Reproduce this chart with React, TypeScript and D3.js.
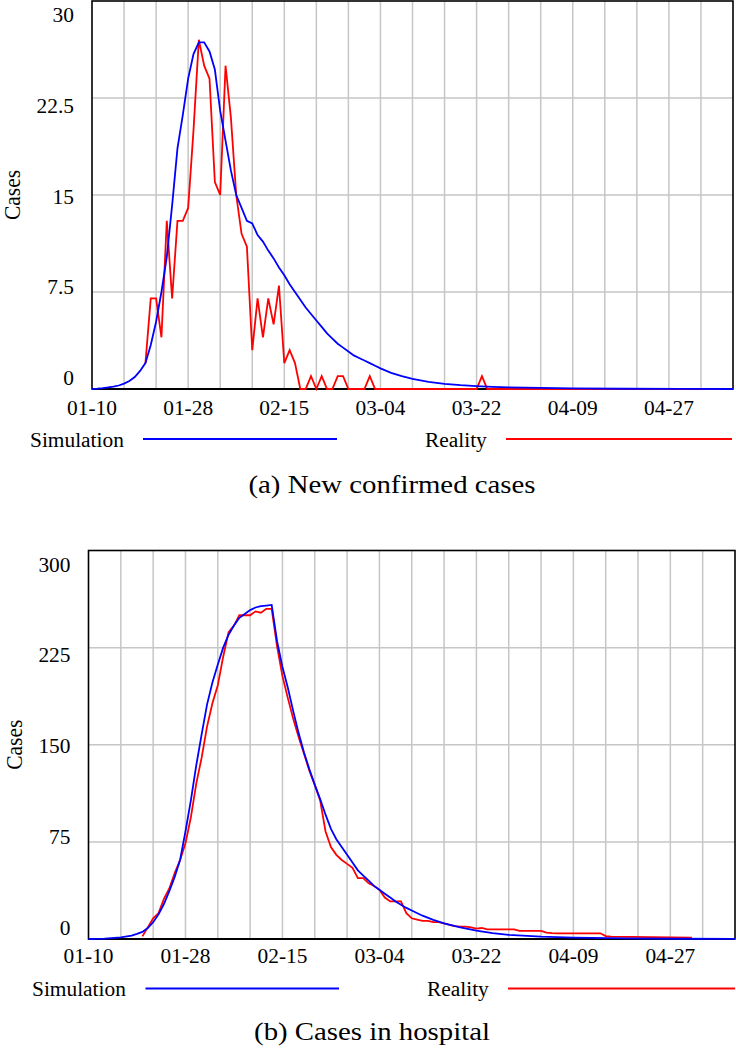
import React, { useEffect, useRef } from "react";
import * as d3 from "d3";

// x axis: days since 01-10, gridline every 6 days, label every 18
const tickLabels = ["01-10", "01-28", "02-15", "03-04", "03-22", "04-09", "04-27"];
const totalDays = 120;
const tickStep = 18;
const gridStep = 6;

const newYTicks = [0, 7.5, 15, 22.5, 30];
const hospYTicks = [0, 75, 150, 225, 300];

const seriesNames = ["Simulation", "Reality"];
const titles = ["(a) New confirmed cases", "(b) Cases in hospital"];

// [day, cases]
const newSimulation: [number, number][] = [
  [0, 0], [1, 0.03], [2, 0.07], [3, 0.12], [4, 0.18], [5, 0.27], [6, 0.42], [7, 0.62],
  [8, 0.92], [9, 1.4], [10, 2.0], [11, 3.4], [12, 5.2], [13, 7.5], [14, 10.2], [15, 14.2],
  [16, 18.6], [17, 21.2], [18, 24.0], [19, 25.9], [20, 26.8], [21, 26.8], [22, 26.1],
  [23, 24.7], [24, 21.5], [25, 19.2], [26, 16.9], [27, 15.0], [28, 14.0], [29, 13.0],
  [30, 12.8], [31, 11.9], [32, 11.4], [33, 10.7], [34, 10.1], [35, 9.4], [36, 8.8],
  [37, 8.1], [38, 7.5], [39, 6.9], [40, 6.3], [41, 5.8], [42, 5.3], [43, 4.8], [44, 4.3],
  [45, 3.9], [46, 3.5], [47, 3.2], [48, 2.9], [49, 2.6], [50, 2.4], [51, 2.2], [52, 2.0],
  [53, 1.8], [54, 1.6], [56, 1.25], [58, 1.0], [60, 0.78], [63, 0.55], [66, 0.4],
  [69, 0.3], [72, 0.23], [75, 0.17], [78, 0.13], [84, 0.08], [90, 0.05], [100, 0.02],
  [110, 0.01], [120, 0],
];

const newReality: [number, number][] = [
  [10, 2], [11, 7], [12, 7], [13, 4], [14, 13], [15, 7], [16, 13], [17, 13], [18, 14],
  [19, 20], [20, 27], [21, 25], [22, 24], [23, 16], [24, 15], [25, 25], [26, 21],
  [27, 15], [28, 12], [29, 11], [30, 3], [31, 7], [32, 4], [33, 7], [34, 5], [35, 8],
  [36, 2], [37, 3], [38, 2], [39, 0], [40, 0], [41, 1], [42, 0], [43, 1], [44, 0],
  [45, 0], [46, 1], [47, 1], [48, 0], [51, 0], [52, 1], [53, 0], [72, 0], [73, 1],
  [74, 0], [120, 0],
];

const hospSimulation: [number, number][] = [
  [0, 0], [3, 0.3], [6, 1.3], [8, 2.6], [9, 3.9], [10, 5.5], [11, 8.5], [12, 13],
  [13, 19], [14, 27], [15, 37], [16, 48], [17, 61], [18, 83], [19, 107], [20, 134],
  [21, 158], [22, 181], [23, 198], [24, 212], [25, 225], [26, 235], [27, 242], [28, 248],
  [29, 251], [30, 254], [31, 256], [32, 257], [33, 257.5], [34, 258], [35, 230],
  [36, 210], [37, 194], [38, 176], [39, 159], [40, 144], [41, 131], [42, 119], [43, 108],
  [44, 96], [45, 85], [46, 77], [47, 71], [48, 65], [49, 59], [50, 53], [51, 49],
  [52, 45], [53, 41], [54, 38], [55, 35], [56, 32], [57, 29], [58, 26.5], [59, 24],
  [60, 22], [62, 18], [64, 14.8], [66, 12], [69, 9], [72, 6.5], [75, 4.6], [78, 3.2],
  [84, 1.8], [90, 1.0], [100, 0.5], [110, 0.2], [120, 0.1],
];

const hospReality: [number, number][] = [
  [10, 2], [11, 9], [12, 16], [13, 20], [14, 31], [15, 39], [16, 51], [17, 61], [18, 74],
  [19, 94], [20, 120], [21, 140], [22, 164], [23, 182], [24, 196], [25, 218], [26, 237],
  [27, 242], [28, 250], [29, 250], [30, 250], [31, 253], [32, 252], [33, 255], [34, 255],
  [35, 226], [36, 203], [37, 186], [38, 170], [39, 156], [40, 143], [41, 130], [42, 119],
  [43, 107], [44, 83], [45, 71], [46, 65], [47, 61], [48, 58], [49, 55], [50, 47],
  [51, 47], [52, 43], [53, 41], [54, 38], [55, 32], [56, 29], [57, 29], [58, 29],
  [59, 20], [60, 16], [61, 15], [62, 14], [63, 14], [64, 13], [65, 13], [66, 12],
  [67, 11], [68, 10], [69, 9.5], [70, 9.5], [71, 9], [72, 8], [73, 8.5], [74, 7.5],
  [79, 7.5], [80, 6.2], [84, 6.2], [85, 5], [86, 4.5], [87, 4.4], [95, 4.4], [96, 2.3],
  [97, 1.8], [112, 1.0],
];

const FONT = '"Liberation Serif", "Times New Roman", serif';
const SX = 1.07; // reference text is a bit wider than Times

const panels = [
  {
    left: 92, right: 733, top: 1, bottom: 389, yTicks: newYTicks,
    sim: newSimulation, real: newReality, title: titles[0],
    yLabelRight: 74, casesX: 20, tickBase: 415,
    legendY: 439, simText: 30, simLine: [143, 337], realText: 425, realLine: [506, 732],
    titleX: 392, titleY: 493,
  },
  {
    left: 88.5, right: 735, top: 550.5, bottom: 939, yTicks: hospYTicks,
    sim: hospSimulation, real: hospReality, title: titles[1],
    yLabelRight: 70.5, casesX: 21.5, tickBase: 963,
    legendY: 988.5, simText: 32, simLine: [145.5, 339], realText: 427, realLine: [508, 735],
    titleX: 372, titleY: 1040,
  },
];

const addText = (g, str, x, y, size, anchor, sx = SX) =>
  g.append("text")
    .attr("transform", `translate(${x},${y}) scale(${sx},1)`)
    .attr("text-anchor", anchor)
    .attr("font-family", FONT)
    .attr("font-size", size)
    .attr("fill", "#000")
    .text(str);

function drawPanel(svg, p) {
  const x = d3.scaleLinear().domain([0, totalDays]).range([p.left, p.right]);
  const yMax = p.yTicks[p.yTicks.length - 1];
  const y = d3.scaleLinear().domain([0, yMax]).range([p.bottom, p.top]);
  // the tick labels sit in a slightly compressed band (0 above the axis, max below the top)
  const labelY = d3.scaleLinear().domain([0, yMax]).range([p.bottom - 4, p.top + 21]);

  const g = svg.append("g");

  g.selectAll(".vgrid")
    .data(d3.range(gridStep, totalDays, gridStep))
    .join("line")
    .attr("x1", d => x(d)).attr("x2", d => x(d))
    .attr("y1", p.top).attr("y2", p.bottom)
    .attr("stroke", "#c6c6c6").attr("stroke-width", 1.5);

  g.selectAll(".hgrid")
    .data(p.yTicks.slice(1, -1))
    .join("line")
    .attr("x1", p.left).attr("x2", p.right)
    .attr("y1", d => y(d)).attr("y2", d => y(d))
    .attr("stroke", "#c6c6c6").attr("stroke-width", 1.5);

  g.append("rect")
    .attr("x", p.left).attr("y", p.top)
    .attr("width", p.right - p.left).attr("height", p.bottom - p.top)
    .attr("fill", "none").attr("stroke", "#000").attr("stroke-width", 1.6);

  g.append("line")
    .attr("x1", p.left).attr("x2", p.right)
    .attr("y1", p.bottom).attr("y2", p.bottom)
    .attr("stroke", "#000").attr("stroke-width", 2.2);

  const line = d3.line().x(d => x(d[0])).y(d => y(d[1]));

  g.append("path").datum(p.real)
    .attr("fill", "none").attr("stroke", "#ff0000").attr("stroke-width", 1.8)
    .attr("d", line);
  g.append("path").datum(p.sim)
    .attr("fill", "none").attr("stroke", "#0000ff").attr("stroke-width", 1.8)
    .attr("d", line);

  p.yTicks.forEach(t => addText(g, String(t), p.yLabelRight, labelY(t), 20, "end"));

  tickLabels.forEach((t, i) => addText(g, t, x(i * tickStep), p.tickBase, 20, "middle"));

  g.append("text")
    .attr("transform", `translate(${p.casesX},${(p.top + p.bottom) / 2}) rotate(-90) scale(1,1.06)`)
    .attr("text-anchor", "middle")
    .attr("font-family", FONT).attr("font-size", 21.5)
    .text("Cases");

  // legend
  addText(g, seriesNames[0], p.simText, p.legendY + 7.5, 20, "start");
  g.append("line")
    .attr("x1", p.simLine[0]).attr("x2", p.simLine[1])
    .attr("y1", p.legendY).attr("y2", p.legendY)
    .attr("stroke", "#0000ff").attr("stroke-width", 1.8);
  addText(g, seriesNames[1], p.realText, p.legendY + 7.5, 20, "start");
  g.append("line")
    .attr("x1", p.realLine[0]).attr("x2", p.realLine[1])
    .attr("y1", p.legendY).attr("y2", p.legendY)
    .attr("stroke", "#ff0000").attr("stroke-width", 1.8);

  addText(g, p.title, p.titleX, p.titleY, 25.5, "middle", 1.13);
}

const App = () => {
  const ref = useRef(null);

  useEffect(() => {
    if (!ref.current) return;
    const svg = d3.select(ref.current);
    svg.selectAll("*").remove();
    panels.forEach(p => drawPanel(svg, p));
  }, []);

  return (
    <svg
      ref={ref}
      width={736}
      height={1051}
      style={{ position: "absolute", left: 0, top: 0, background: "#fff" }}
    />
  );
};

export default App;
